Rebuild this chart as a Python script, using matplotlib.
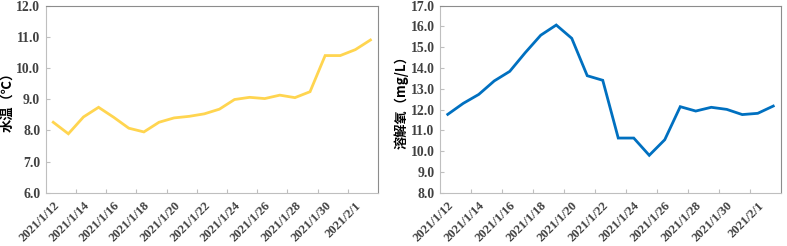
import matplotlib
matplotlib.use("Agg")
import matplotlib.pyplot as plt
import numpy as np

dates = ["2021/1/12", "2021/1/13", "2021/1/14", "2021/1/15", "2021/1/16", "2021/1/17",
         "2021/1/18", "2021/1/19", "2021/1/20", "2021/1/21", "2021/1/22", "2021/1/23",
         "2021/1/24", "2021/1/25", "2021/1/26", "2021/1/27", "2021/1/28", "2021/1/29",
         "2021/1/30", "2021/1/31", "2021/2/1", "2021/2/2"]
water_temp = [8.26, 7.89, 8.43, 8.74, 8.42, 8.07, 7.95, 8.26, 8.40, 8.45, 8.53, 8.68,
              8.99, 9.06, 9.02, 9.13, 9.05, 9.24, 10.40, 10.40, 10.59, 10.90]
dissolved_o2 = [11.77, 12.30, 12.73, 13.38, 13.84, 14.74, 15.58, 16.07, 15.43, 13.63,
                13.41, 10.63, 10.63, 9.80, 10.55, 12.14, 11.93, 12.11, 12.01, 11.76,
                11.82, 12.17]
temp_label = "水温（℃）"
do_label = "溶解氧（mg/L）"

W, H = 787, 246
fig = plt.figure(figsize=(W / 100, H / 100), dpi=100)

tick_font = dict(family=["Liberation Serif", "Noto Sans CJK SC"], weight="bold", size=9.8)
date_font = dict(family=["Liberation Serif", "Noto Sans CJK SC"], weight="bold", size=9.2)
label_font = dict(family=["Noto Sans CJK SC", "Liberation Serif"], weight="bold", size=9.5)


def setup(ax, vals, color, ylim, ylabel):
    x = np.arange(len(dates))
    ax.plot(x, vals, color=color, lw=2.0, solid_joinstyle="miter")
    ax.set_xlim(-0.5, len(dates) - 0.5)
    ax.set_ylim(*ylim)
    ax.set_yticks(np.arange(ylim[0], ylim[1] + 0.01, 1.0))
    ax.set_yticklabels([f"{v:.1f}" for v in np.arange(ylim[0], ylim[1] + 0.01, 1.0)], **tick_font, color="#404040")
    ax.set_xticks(np.arange(1.5, len(dates) - 1, 2))
    ax.set_xticklabels([])
    lab_pos = np.arange(0, len(dates), 2)
    ax.set_xticks(lab_pos, minor=True)
    ax.set_xticklabels([dates[i] for i in lab_pos], minor=True, rotation=45, ha="right",
                       rotation_mode="anchor", **date_font, color="#404040")
    ax.tick_params(axis="x", which="major", direction="in", length=3, color="#BFBFBF")
    ax.tick_params(axis="x", which="minor", length=0, pad=5)
    ax.tick_params(axis="y", direction="in", length=3, color="#BFBFBF", pad=4)
    for s in ax.spines.values():
        s.set_color("#8C8C8C")
        s.set_linewidth(0.8)
    ax.spines["left"].set_color("#BFBFBF")
    ax.spines["bottom"].set_color("#BFBFBF")
    ax.set_ylabel(ylabel, **label_font, labelpad=1)


ax1 = fig.add_axes([45.7 / W, (H - 192.7) / H, (378 - 45.7) / W, (192.7 - 5.7) / H])
setup(ax1, water_temp, "#FFD550", (6, 12), temp_label)
ax2 = fig.add_axes([440 / W, (H - 192.7) / H, (781 - 440) / W, (192.7 - 5.7) / H])
setup(ax2, dissolved_o2, "#0070C0", (8, 17), do_label)

fig.savefig("out.png", dpi=100)
